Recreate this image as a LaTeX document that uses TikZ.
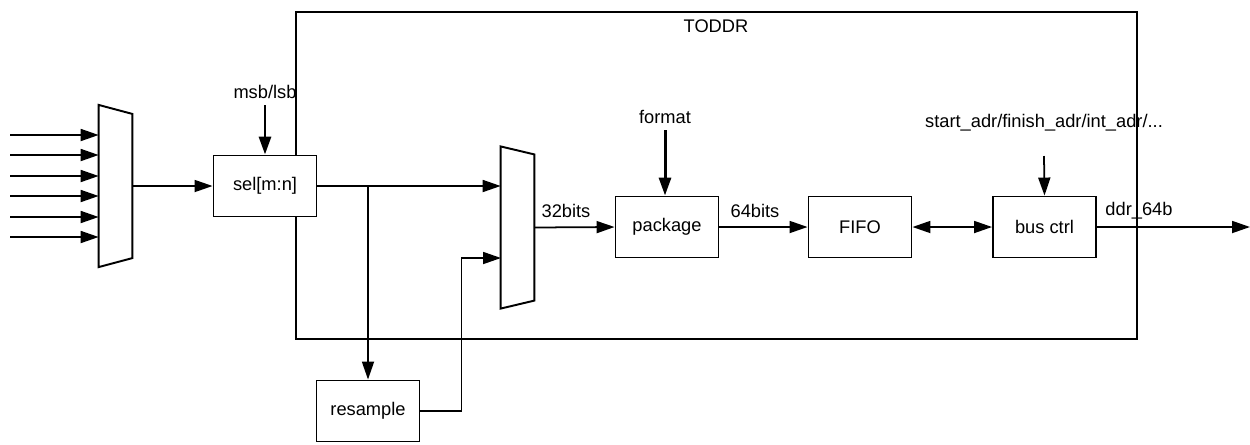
\documentclass[tikz,border=0pt]{standalone}
\usepackage{fontspec}
\setmainfont{Liberation Sans}
\usetikzlibrary{arrows.meta, positioning, calc}

\begin{document}
\begin{tikzpicture}[x=0.02cm, y=-0.02cm,
  blockbox/.style={draw, fill=white, line width=1.1pt, minimum width=2.06cm, minimum height=1.22cm, font=\fontsize{10.4}{12}\selectfont, inner sep=0pt},
  muxbox/.style={minimum width=0.66cm, minimum height=3.23cm, inner sep=0pt},
  muxline/.style={draw, fill=white, line width=1.1pt, line join=miter},
  sig/.style={line width=1pt, -{Triangle[length=0.36cm, width=0.24cm]}},
  ctrl/.style={line width=1.7pt, -{Triangle[length=0.36cm, width=0.24cm]}},
  lbl/.style={font=\fontsize{10.4}{12}\selectfont, inner sep=1pt},
]
\useasboundingbox (0,0) rectangle (1250,444);

% Outer block
\node[draw, line width=1.1pt, minimum width=16.82cm, minimum height=6.54cm, inner sep=0pt] (toddr) at (716.5,175.5) {};
\node[lbl] (toddrlbl) at (716,26) {TODDR};

% === Input mux ===
\node[muxbox] (mux1) at (115.5,186) {};
\path[muxline] (mux1.north west) -- ($(mux1.north east)+(0,9)$) -- ($(mux1.south east)+(0,-9)$) -- (mux1.south west) -- cycle;
\foreach \y in {135,155,176,196,217,237} {
  \coordinate (in\y) at (10,\y);
  \draw[sig] (in\y) -- (in\y -| mux1.west);
}

% === Select ===
\node[blockbox] (sel) at (265,186) {sel[m:n]};
\draw[sig] (mux1.east) -- (sel.west);
\node[lbl] (msb) at (265,92) {msb/lsb};
\coordinate (msbin) at (265,105);
\draw[ctrl] (msbin) -- (sel.north);

% === Second mux + resample ===
\node[muxbox] (mux2) at (517.5,227.5) {};
\path[muxline] (mux2.north west) -- ($(mux2.north east)+(0,8)$) -- ($(mux2.south east)+(0,-8)$) -- (mux2.south west) -- cycle;
\node[blockbox] (resample) at (368,411) {resample};
\coordinate (split) at (368,186);
\coordinate (mux2in2) at (501,258);
\draw[sig] (sel.east) -- (sel.east -| mux2.west);
\draw[sig] (split) -- (resample.north);
\draw[sig] (resample.east) -- ++(41,0) |- (mux2in2);

% === Datapath ===
\node[blockbox] (package) at (667,227) {package};
\node[blockbox] (fifo) at (860,227) {FIFO};
\node[blockbox] (busctrl) at (1044.5,227) {bus ctrl};
\draw[sig] (mux2.east) -- (package.west);
\node[lbl] (w32) at (566,211) {32bits};
\draw[sig] (package.east) -- (fifo.west);
\node[lbl] (w64) at (755,211) {64bits};
\draw[sig, {Triangle[length=0.36cm, width=0.24cm]}-{Triangle[length=0.36cm, width=0.24cm]}] (fifo.east) -- (busctrl.west);
\coordinate (ddrout) at (1250,227);
\draw[sig] (busctrl.east) -- (ddrout);
\node[lbl] (ddr) at (1139,211) {ddr\_64b};

% Control inputs
\node[lbl] (fmt) at (665,117) {format};
\coordinate (fmtin) at (665,130);
\draw[ctrl] (fmtin) -- (fmtin |- package.north);
\node[lbl] (adr) at (1044,123) {start\_adr/finish\_adr/int\_adr/...};
\coordinate (adrin) at (1044,156);
\draw[sig] (adrin) -- (busctrl.north);
\end{tikzpicture}
\end{document}
